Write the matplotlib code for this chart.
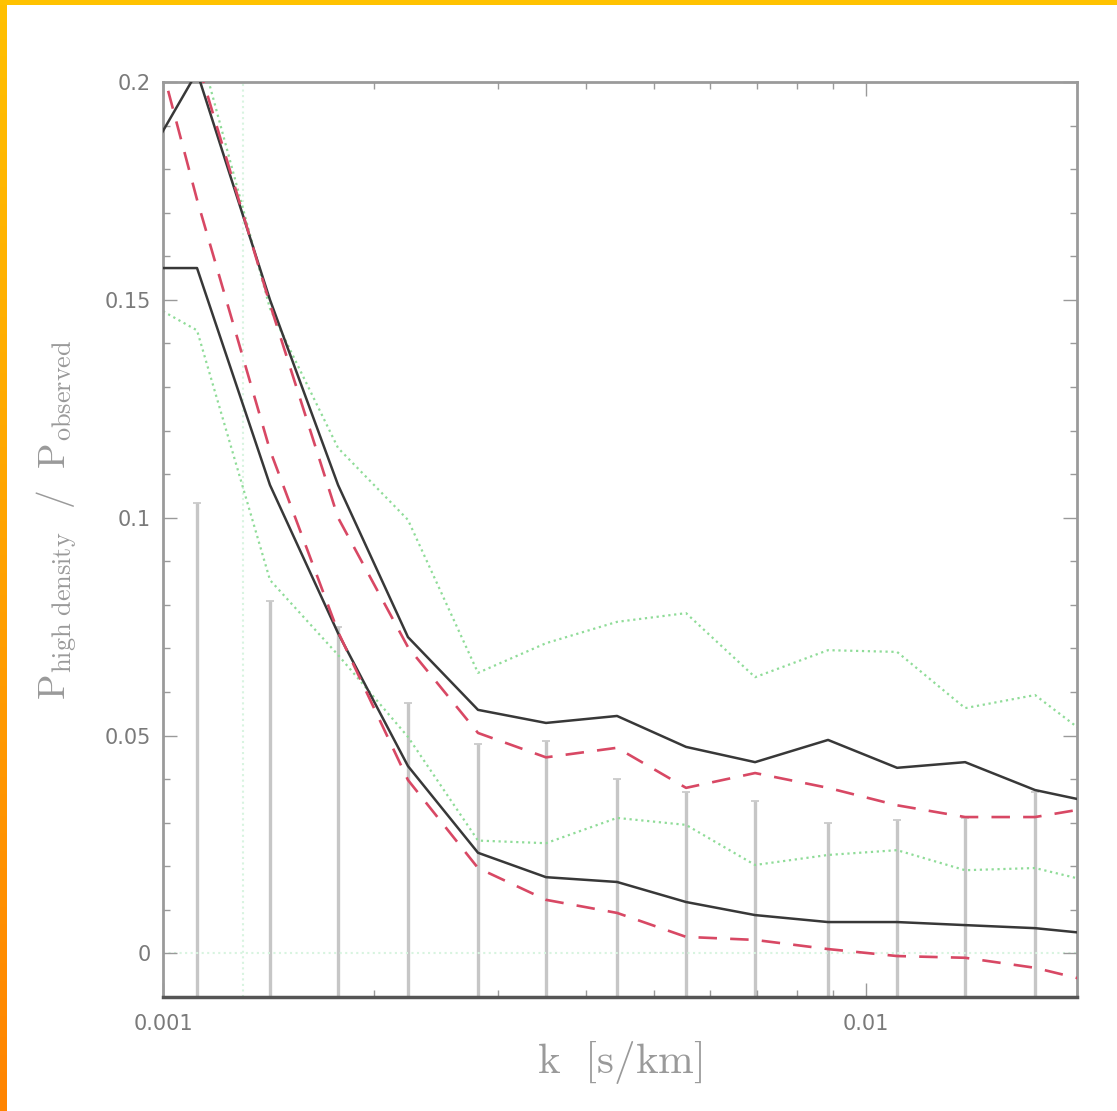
import numpy as np
import matplotlib
matplotlib.use("Agg")
import matplotlib.pyplot as plt
from matplotlib.ticker import FixedLocator, FixedFormatter, NullFormatter

plt.rcParams["mathtext.fontset"] = "cm"

# wavenumber bins [s/km]
k = [0.000889, 0.001118, 0.00142, 0.001775, 0.002232, 0.002808, 0.003509,
     0.004429, 0.005553, 0.006963, 0.008844, 0.01109, 0.01386, 0.01743, 0.02192]

# ratio P_high density / P_observed, two runs (solid) with model bands
run_hi = [0.1745, 0.2023, 0.150, 0.1075, 0.0726, 0.0559, 0.0529, 0.0545,
          0.0474, 0.0439, 0.0490, 0.0426, 0.0439, 0.0375, 0.0341]
run_lo = [0.1573, 0.1573, 0.1075, 0.0735, 0.043, 0.0231, 0.0175, 0.0164,
          0.0118, 0.0088, 0.0072, 0.0072, 0.0065, 0.0058, 0.0042]
model_hi = [0.220, 0.205, 0.149, 0.100, 0.0703, 0.0506, 0.045, 0.0472,
            0.038, 0.0414, 0.038, 0.034, 0.0313, 0.0313, 0.034]
model_lo = [0.2335, 0.173, 0.1155, 0.0738, 0.0398, 0.0196, 0.0123, 0.0093,
            0.0038, 0.0031, 0.001, -0.0006, -0.001, -0.0033, -0.0072]
noise_hi = [0.230, 0.210, 0.148, 0.116, 0.0995, 0.0644, 0.0712, 0.0761,
            0.0781, 0.0634, 0.0696, 0.0692, 0.0563, 0.0593, 0.0471]
noise_lo = [0.152, 0.143, 0.0857, 0.0685, 0.0497, 0.0259, 0.0253, 0.0311,
            0.0295, 0.0203, 0.0226, 0.0237, 0.0191, 0.0196, 0.0157]

# error bars on the measured points
bar_k = k[1:-1]
bar_err = [0.1033, 0.081, 0.075, 0.0575, 0.048, 0.0487, 0.040, 0.037,
           0.035, 0.030, 0.0306, 0.031, 0.037]

ref_k = [0.0013]
ref_y = 0.0

fig = plt.figure(figsize=(11.17, 11.11), dpi=100)

# coloured frame: yellow top edge, yellow-to-orange left edge
grad = np.linspace(0, 1, 256).reshape(-1, 1)
cmap = matplotlib.colors.LinearSegmentedColormap.from_list("frame", ["#ffc000", "#ff8400"])
lax = fig.add_axes([0, 0, 7 / 1117, 1])
lax.imshow(grad, aspect="auto", cmap=cmap, extent=[0, 1, 0, 1])
lax.axis("off")
tax = fig.add_axes([0, 1 - 5 / 1111, 1, 5 / 1111])
tax.set_facecolor("#ffc200")
tax.set_xticks([])
tax.set_yticks([])
for s in tax.spines.values():
    s.set_visible(False)

ax = fig.add_axes([163 / 1117, 114 / 1111, 914 / 1117, 915 / 1111])
ax.set_xscale("log")
ax.set_xlim(0.001, 0.02)
ax.set_ylim(-0.01, 0.2)

ax.errorbar(bar_k, np.zeros(len(bar_k)), yerr=bar_err, fmt="none",
            ecolor="#c6c6c6", elinewidth=2.4, capsize=3, capthick=1.2, zorder=1)
ax.vlines(ref_k, -0.01, 0.2, colors="#d8f4e0", linestyles=":", lw=1.5, zorder=1)
ax.axhline(ref_y, color="#d8f4e0", ls=":", lw=1.5, zorder=1)

ax.plot(k, noise_hi, color="#8fdc98", ls=":", lw=1.6, zorder=2)
ax.plot(k, noise_lo, color="#8fdc98", ls=":", lw=1.6, zorder=2)
ax.plot(k, run_hi, color="#383838", lw=1.8, zorder=3)
ax.plot(k, run_lo, color="#383838", lw=1.8, zorder=3)
ax.plot(k, model_hi, color="#d84864", ls=(0, (7, 5)), lw=1.9, zorder=4)
ax.plot(k, model_lo, color="#d84864", ls=(0, (7, 5)), lw=1.9, zorder=4)

ax.xaxis.set_major_locator(FixedLocator([0.001, 0.01]))
ax.xaxis.set_major_formatter(FixedFormatter(["0.001", "0.01"]))
ax.xaxis.set_minor_formatter(NullFormatter())
ax.yaxis.set_major_locator(FixedLocator([0, 0.05, 0.1, 0.15, 0.2]))
ax.yaxis.set_major_formatter(FixedFormatter(["0", "0.05", "0.1", "0.15", "0.2"]))
ax.yaxis.set_minor_locator(FixedLocator(np.arange(-0.01, 0.2001, 0.01)))

ax.tick_params(which="both", direction="in", top=True, right=True,
               color="#9a9a9a", labelcolor="#7a7a7a", labelsize=15)
ax.tick_params(axis="x", pad=12)
ax.tick_params(axis="y", pad=9)
ax.tick_params(which="major", length=10, width=1)
ax.tick_params(which="minor", length=5, width=1)

for side in ["left", "right", "top"]:
    ax.spines[side].set_color("#9a9a9a")
    ax.spines[side].set_linewidth(2)
ax.spines["bottom"].set_color("#555555")
ax.spines["bottom"].set_linewidth(2.5)

ax.set_xlabel(r"$\mathrm{k\ \ [s/km]}$", fontsize=31, color="#9a9a9a")
ax.xaxis.set_label_coords(0.5, -0.046)
ax.set_ylabel(r"$\mathrm{P_{high\ density}\ \ /\ \ P_{observed}}$", fontsize=27,
              color="#9a9a9a")
ax.yaxis.set_label_coords(-0.092, 0.522)

fig.savefig("out.png", dpi=100)
